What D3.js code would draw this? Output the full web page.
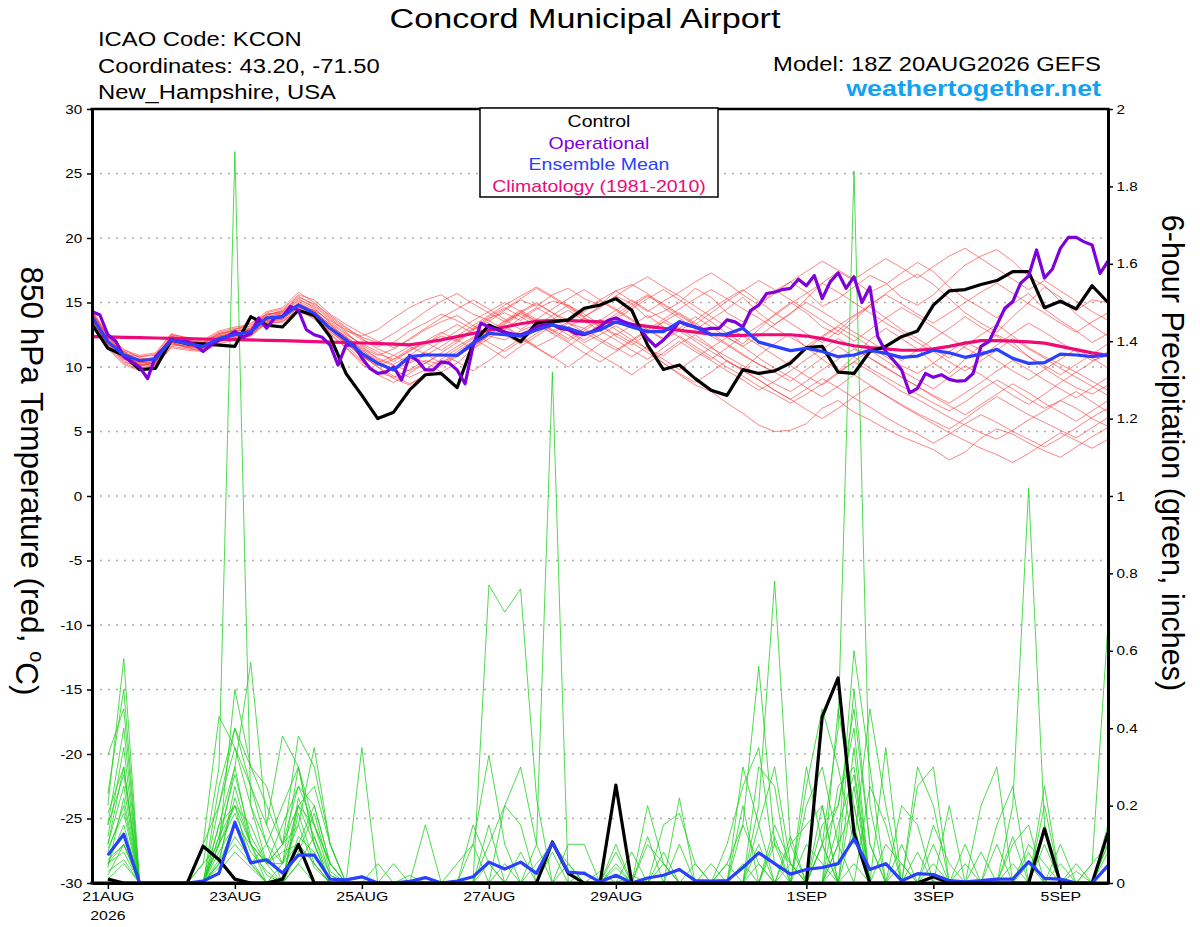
<!DOCTYPE html>
<html>
<head>
<meta charset="utf-8">
<title>Concord Municipal Airport - GEFS</title>
<script src="https://d3js.org/d3.v7.min.js"></script>
<style>
    body { margin: 0; background: #fff; }
    svg { font-family: "Liberation Sans", Arial, Helvetica, sans-serif; }
    .grid line { stroke: #aaa; stroke-width: 1.5; stroke-dasharray: 2 6; }
    .axis path { stroke: #000; stroke-width: 3; }
    .axis line { stroke: #000; stroke-width: 1.5; }
    .axis text { font-size: 12.5px; fill: #000; }
</style>
</head>
<body>
<div id="chart"></div>
<script>
/* ---- data ---- */
var startTime = "2026-08-20T18:00:00Z";   // first 6-h step (model run)
var endTime = "2026-09-05T18:00:00Z";
var stepHours = 6;
var opStepHours = 3;

var tickDates = ["2026-08-21", "2026-08-23", "2026-08-25", "2026-08-27", "2026-08-29", "2026-09-01", "2026-09-03", "2026-09-05"];
var tickLabels = ["21AUG", "23AUG", "25AUG", "27AUG", "29AUG", "1SEP", "3SEP", "5SEP"];
var tempTicks = [-30, -25, -20, -15, -10, -5, 0, 5, 10, 15, 20, 25, 30];
var gridTicks = [-25, -20, -15, -10, -5, 0, 5, 10, 15, 20, 25];
var precipTicks = [0, 0.2, 0.4, 0.6, 0.8, 1, 1.2, 1.4, 1.6, 1.8, 2];
var legendNames = ["Control", "Operational", "Ensemble Mean", "Climatology (1981-2010)"];

// 850 hPa temperature, 6-hourly from 18Z 20AUG
var control = [13.3, 11.45, 10.9, 9.8, 9.9, 12.1, 11.8, 11.8, 11.7, 11.6, 13.9, 13.25, 13.1,
    14.4, 14.0, 12.35, 9.5, 7.8, 6.0, 6.5, 8.2, 9.4, 9.5, 8.4, 11.8, 13.25,
    12.7, 11.96, 13.4, 13.5, 13.65, 14.55, 14.8, 15.3, 14.4, 11.7, 9.8, 10.15, 9.1,
    8.2, 7.8, 9.8, 9.5, 9.7, 10.3, 11.5, 11.6, 9.6, 9.5, 11.2, 11.6, 12.35,
    12.8, 14.8, 15.9, 16.0, 16.4, 16.7, 17.4, 17.4, 14.6, 15.1, 14.5, 16.3, 15.0];

var ensMean = [13.9, 11.96, 10.93, 10.5, 10.6, 12.1, 11.8, 11.6, 12.2, 12.5, 12.74, 13.8, 13.9,
    14.8, 14.16, 13.0, 12.1, 11.06, 10.28, 9.77, 10.8, 10.93, 10.93, 10.9, 11.83, 12.6,
    12.5, 12.4, 12.87, 13.25, 13.0, 12.6, 12.87, 13.5, 13.1, 12.74, 12.74, 13.5, 13.1,
    12.5, 12.55, 13.0, 11.93, 11.6, 11.27, 11.45, 11.2, 10.8, 10.93, 11.3, 11.06, 10.75,
    10.85, 11.3, 11.1, 10.75, 11.0, 11.37, 10.67, 10.28, 10.34, 11.0, 10.93, 10.8, 10.93];

var climo = [12.35, 12.33, 12.3, 12.28, 12.25, 12.22, 12.2, 12.17, 12.15, 12.12, 12.1, 12.07, 12.04,
    12.0, 11.97, 11.93, 11.9, 11.86, 11.82, 11.78, 11.72, 11.9, 12.1, 12.35, 12.6, 12.85,
    13.1, 13.35, 13.55, 13.6, 13.6, 13.55, 13.5, 13.45, 13.3, 13.15, 13.0, 12.85, 12.7,
    12.55, 12.45, 12.45, 12.5, 12.5, 12.5, 12.4, 12.2, 11.9, 11.65, 11.5, 11.4, 11.3,
    11.3, 11.4, 11.6, 11.85, 12.05, 12.05, 12.0, 11.95, 11.85, 11.6, 11.35, 11.1, 10.9];

// operational run, 3-hourly
var operational = [14.3, 14.03, 12.5, 12.0, 10.8, 10.4, 10.0, 9.1, 10.8, 11.45, 12.1, 11.96, 11.96, 11.7, 11.2, 11.7,
    12.1, 12.35, 12.74, 12.3, 12.6, 13.8, 13.0, 13.8, 13.9, 14.7, 14.4, 12.9, 12.5, 12.3, 11.7, 10.15,
    11.7, 11.7, 10.7, 9.9, 9.5, 9.6, 10.0, 9.0, 10.9, 10.5, 9.77, 9.77, 10.4, 10.3, 9.77, 8.7,
    11.6, 13.4, 13.1, 12.9, 12.7, 12.55, 12.5, 12.74, 13.1, 13.3, 13.3, 13.0, 12.9, 12.6, 12.5, 12.74,
    13.1, 13.6, 13.8, 13.5, 13.3, 13.0, 12.2, 11.6, 12.1, 12.74, 13.5, 13.25, 13.1, 12.9, 13.0, 13.0,
    13.65, 13.5, 13.1, 14.4, 14.8, 15.7, 15.8, 16.0, 16.1, 16.8, 16.3, 17.1, 15.3, 16.6, 17.3, 16.1,
    17.0, 15.0, 16.2, 12.35, 11.2, 10.5, 9.77, 8.0, 8.35, 9.5, 9.2, 9.4, 9.04, 8.9, 8.94, 9.5,
    11.6, 11.96, 13.25, 14.55, 15.07, 16.5, 17.05, 19.07, 16.9, 17.6, 19.2, 20.05, 20.05, 19.7, 19.46, 17.26,
    18.2];

// ensemble members (temperature)
var mem01 = [14.2, 12.3, 11.2, 10.1, 10.3, 12.4, 12.0, 11.9, 12.6, 12.9, 13.4, 14.1, 14.3,
    15.3, 14.6, 13.4, 12.5, 11.8, 11.2, 10.4, 11.3, 11.8, 12.4, 12.0, 12.9, 13.8,
    14.2, 13.6, 14.5, 15.1, 14.8, 13.9, 14.6, 15.5, 14.9, 13.8, 14.3, 15.0, 16.1,
    15.4, 14.2, 13.5, 14.8, 15.9, 16.6, 15.8, 14.7, 15.3, 16.2, 17.1, 16.5, 15.4,
    14.8, 15.6, 16.8, 17.9, 18.6, 19.1, 18.2, 17.0, 16.3, 15.1, 14.4, 15.2, 15.0];
var mem02 = [13.6, 11.8, 10.6, 10.4, 10.8, 11.9, 11.5, 11.2, 12.0, 12.2, 12.4, 13.5, 13.6,
    14.4, 13.9, 12.8, 11.7, 10.5, 9.6, 9.2, 9.8, 10.5, 10.2, 10.9, 11.6, 12.4,
    12.1, 12.8, 13.3, 12.6, 13.4, 13.0, 12.2, 11.5, 10.8, 11.6, 10.3, 9.4, 8.6,
    8.1, 7.2, 6.4, 5.5, 5.0, 5.1, 5.6, 6.8, 7.4, 6.5, 5.9, 5.2, 4.6,
    4.1, 3.6, 2.8, 3.4, 4.5, 5.2, 4.8, 4.1, 3.5, 3.0, 3.8, 4.6, 5.3];
var mem03 = [14.0, 12.1, 11.0, 10.8, 10.9, 12.3, 12.1, 11.8, 12.5, 12.8, 12.9, 13.6, 13.7,
    14.6, 14.4, 13.6, 12.9, 12.1, 11.6, 11.9, 12.8, 13.4, 14.1, 13.6, 12.9, 13.5,
    14.4, 15.2, 14.7, 15.6, 16.1, 15.3, 14.8, 15.9, 16.4, 15.7, 14.6, 13.8, 12.9,
    13.7, 14.5, 15.4, 14.2, 13.3, 14.1, 15.3, 16.5, 17.4, 16.7, 15.8, 16.4, 17.3,
    18.1, 17.4, 16.2, 15.3, 14.6, 13.8, 14.9, 15.7, 14.5, 13.6, 12.8, 11.9, 12.6];
var mem04 = [13.8, 11.7, 10.5, 9.9, 10.2, 11.8, 11.5, 11.4, 11.9, 12.3, 12.6, 13.7, 14.0,
    15.0, 14.3, 13.1, 12.4, 11.3, 10.4, 9.8, 10.6, 11.1, 10.8, 11.6, 12.3, 13.1,
    12.5, 11.8, 12.6, 13.4, 12.8, 11.9, 12.5, 13.2, 12.4, 11.3, 10.9, 11.8, 12.5,
    11.6, 10.4, 9.8, 10.9, 11.8, 12.6, 11.5, 10.6, 9.7, 10.8, 12.1, 13.0, 12.2,
    11.4, 10.3, 9.5, 10.6, 11.7, 12.5, 11.9, 10.8, 9.9, 9.1, 8.4, 7.9, 8.6];
var mem05 = [14.4, 12.5, 11.3, 10.9, 11.1, 12.6, 12.2, 12.0, 12.7, 13.0, 13.1, 14.0, 14.4,
    15.5, 14.8, 13.8, 12.8, 12.4, 12.9, 13.8, 14.6, 15.2, 15.6, 14.8, 14.1, 13.6,
    12.9, 13.8, 14.6, 13.9, 12.8, 12.1, 12.9, 13.7, 14.5, 15.3, 16.0, 15.2, 14.3,
    13.5, 12.6, 11.8, 12.9, 14.1, 15.0, 14.2, 13.1, 12.5, 13.6, 14.8, 15.7, 16.5,
    17.2, 16.4, 15.3, 14.2, 13.4, 12.7, 13.9, 15.0, 16.2, 15.4, 14.1, 13.2, 12.4];
var mem06 = [13.5, 11.5, 10.3, 9.8, 10.0, 11.6, 11.4, 11.3, 12.1, 12.4, 12.8, 13.9, 14.1,
    14.9, 14.1, 12.6, 11.5, 10.2, 9.5, 9.9, 10.7, 10.4, 9.6, 10.3, 11.4, 12.5,
    13.2, 12.4, 11.6, 12.2, 13.1, 13.8, 13.2, 12.4, 11.7, 12.6, 13.5, 14.2, 13.4,
    12.6, 11.8, 11.0, 10.2, 9.6, 8.9, 9.8, 10.7, 11.6, 10.8, 9.9, 9.2, 8.5,
    7.9, 7.2, 6.6, 7.3, 8.2, 9.0, 8.3, 7.5, 6.8, 7.4, 8.1, 7.3, 6.5];
var mem07 = [14.1, 12.2, 11.1, 10.6, 10.4, 12.0, 11.9, 11.7, 12.3, 12.6, 12.9, 14.2, 14.5,
    15.6, 15.2, 14.1, 13.3, 12.6, 12.0, 11.5, 12.1, 12.9, 13.5, 14.0, 13.2, 12.6,
    13.4, 14.2, 13.6, 12.8, 13.5, 14.3, 15.1, 14.4, 13.6, 12.9, 12.1, 12.8, 13.6,
    14.5, 15.3, 16.0, 15.1, 14.2, 13.4, 12.6, 11.9, 12.8, 13.9, 14.7, 13.8, 12.9,
    12.2, 11.4, 10.7, 11.6, 12.5, 13.3, 12.4, 11.5, 10.8, 10.2, 9.6, 10.4, 11.2];
var mem08 = [13.7, 11.9, 10.8, 10.3, 10.7, 12.2, 11.7, 11.5, 12.4, 12.7, 12.5, 13.4, 13.5,
    14.3, 13.8, 12.9, 11.8, 10.8, 10.1, 10.6, 11.4, 11.9, 11.3, 12.1, 13.0, 13.9,
    14.6, 13.9, 13.2, 14.0, 14.8, 14.1, 13.3, 12.5, 13.2, 14.0, 13.1, 12.3, 11.4,
    10.6, 11.5, 12.4, 11.7, 10.9, 10.1, 9.3, 8.6, 9.5, 10.4, 11.3, 10.5, 9.7,
    9.0, 8.3, 9.2, 10.1, 9.4, 8.6, 7.8, 7.1, 7.9, 8.8, 9.6, 8.9, 8.2];
var mem09 = [14.3, 12.4, 11.4, 10.7, 10.5, 12.5, 12.3, 12.1, 12.8, 13.1, 13.3, 14.3, 14.6,
    15.8, 15.0, 13.9, 13.0, 12.3, 11.9, 12.6, 13.4, 14.3, 15.1, 15.7, 14.9, 14.2,
    13.5, 14.3, 15.0, 14.2, 13.6, 14.4, 15.2, 15.9, 15.1, 14.3, 15.1, 15.8, 16.6,
    17.3, 16.5, 15.6, 14.8, 15.7, 16.6, 17.4, 18.2, 17.5, 16.8, 17.6, 18.4, 17.7,
    16.9, 17.8, 18.6, 19.2, 18.4, 17.6, 16.8, 16.0, 16.7, 15.9, 15.1, 14.3, 13.6];
var mem10 = [13.9, 12.0, 10.9, 10.2, 10.1, 11.7, 11.6, 11.5, 12.0, 12.3, 12.5, 13.6, 13.8,
    14.8, 14.0, 12.7, 11.9, 10.9, 10.0, 9.1, 8.6, 9.4, 10.3, 11.2, 12.0, 12.8,
    13.6, 14.4, 13.7, 12.9, 12.2, 13.0, 13.7, 12.9, 12.1, 11.4, 10.6, 9.8, 10.7,
    11.5, 12.3, 11.6, 10.7, 9.9, 9.2, 8.4, 7.7, 8.5, 9.4, 8.6, 7.8, 7.1,
    6.4, 5.8, 5.2, 6.0, 6.9, 7.7, 7.0, 6.3, 5.7, 5.1, 4.5, 5.3, 6.1];
var mem11 = [14.0, 12.2, 11.1, 10.5, 10.8, 12.4, 12.0, 11.6, 12.3, 12.7, 13.0, 13.9, 14.2,
    15.2, 14.7, 13.7, 12.7, 11.6, 10.6, 10.1, 9.7, 10.3, 11.1, 11.9, 12.8, 13.7,
    14.5, 15.3, 16.1, 15.4, 14.6, 13.8, 13.1, 13.9, 14.7, 15.5, 14.8, 14.0, 13.2,
    12.4, 11.7, 10.9, 10.2, 9.6, 10.5, 11.4, 12.3, 13.1, 12.4, 11.6, 10.8, 10.1,
    9.5, 10.3, 11.2, 12.0, 11.3, 10.5, 9.7, 9.0, 9.8, 10.6, 11.4, 10.7, 9.9];
var mem12 = [13.7, 11.6, 10.4, 10.0, 10.4, 11.9, 11.7, 11.4, 12.1, 12.5, 12.7, 13.7, 13.9,
    14.7, 14.2, 13.3, 12.2, 11.4, 10.7, 10.2, 10.9, 11.7, 12.6, 13.3, 12.6, 11.9,
    11.2, 12.0, 12.9, 13.7, 14.4, 13.6, 12.8, 12.1, 11.3, 10.6, 11.5, 12.4, 11.6,
    10.8, 10.0, 9.3, 8.5, 7.9, 7.2, 7.9, 8.7, 9.6, 10.4, 9.7, 8.9, 8.1,
    7.5, 6.8, 6.1, 5.5, 4.9, 4.4, 5.1, 5.9, 6.6, 7.4, 6.8, 6.0, 5.4];
var mem13 = [14.2, 12.4, 11.2, 10.4, 10.2, 11.9, 12.0, 11.9, 12.5, 12.9, 13.2, 14.1, 14.2,
    15.1, 14.5, 13.5, 12.6, 11.7, 11.0, 10.6, 11.2, 12.0, 12.7, 12.1, 11.4, 12.2,
    13.1, 12.3, 11.5, 10.7, 11.6, 12.5, 13.3, 14.1, 14.9, 15.6, 14.9, 14.1, 13.3,
    14.2, 15.1, 15.9, 16.7, 16.0, 15.2, 14.4, 13.6, 12.8, 12.0, 12.9, 13.8, 14.6,
    13.9, 13.1, 12.3, 11.5, 10.8, 11.7, 12.6, 13.4, 12.7, 11.9, 11.2, 10.5, 10.9];
var mem14 = [13.4, 11.4, 10.2, 9.7, 10.1, 11.5, 11.3, 11.2, 11.8, 12.1, 12.4, 13.4, 13.5,
    14.5, 13.7, 12.5, 11.5, 10.4, 9.4, 8.8, 9.5, 10.3, 11.0, 10.4, 9.7, 10.5,
    11.4, 12.2, 11.5, 10.8, 10.0, 10.9, 11.8, 12.6, 11.9, 11.1, 10.3, 9.5, 8.8,
    9.6, 10.5, 9.8, 9.0, 8.2, 7.5, 6.7, 6.0, 6.8, 7.7, 8.5, 7.8, 7.0,
    6.3, 5.6, 4.9, 4.3, 3.7, 3.2, 2.6, 3.3, 4.1, 4.9, 4.3, 3.7, 4.4];
var mem15 = [14.1, 12.0, 10.9, 10.6, 10.7, 12.1, 11.9, 11.8, 12.4, 12.6, 12.8, 13.8, 14.0,
    14.9, 14.4, 13.2, 12.3, 11.5, 10.9, 11.4, 12.2, 13.0, 13.8, 14.5, 15.2, 14.5,
    13.7, 12.9, 13.7, 14.5, 15.3, 16.0, 15.2, 14.5, 13.7, 12.9, 12.2, 13.0, 13.9,
    13.1, 12.3, 11.6, 12.4, 13.3, 14.2, 15.0, 14.3, 13.5, 12.7, 12.0, 11.2, 10.5,
    11.3, 12.2, 13.0, 13.9, 13.1, 12.4, 11.6, 10.8, 10.1, 9.4, 10.2, 11.0, 11.8];
var mem16 = [13.8, 11.8, 10.7, 10.2, 10.3, 11.9, 11.6, 11.5, 12.1, 12.4, 12.6, 13.5, 13.7,
    14.6, 14.0, 12.9, 11.9, 10.8, 10.3, 10.9, 11.6, 11.0, 10.3, 11.0, 11.8, 12.7,
    13.5, 14.2, 14.9, 14.2, 13.4, 12.7, 12.0, 11.3, 12.1, 12.9, 13.7, 13.0, 12.2,
    11.5, 10.8, 10.1, 9.4, 8.7, 8.1, 8.9, 9.8, 10.6, 11.4, 10.7, 9.9, 9.2,
    8.5, 7.8, 7.2, 8.0, 8.8, 9.7, 10.5, 9.8, 9.0, 8.3, 7.6, 8.4, 9.2];
var mem17 = [14.3, 12.3, 11.2, 10.8, 11.0, 12.5, 12.1, 11.9, 12.6, 12.8, 13.0, 14.0, 14.3,
    15.4, 14.9, 14.0, 13.1, 12.2, 11.4, 10.9, 10.3, 10.9, 11.6, 12.4, 13.2, 14.0,
    14.8, 15.5, 16.2, 15.5, 14.7, 13.9, 14.7, 15.5, 16.3, 17.0, 16.2, 15.5, 14.7,
    13.9, 13.1, 12.4, 13.2, 14.0, 14.9, 15.7, 16.5, 15.8, 15.0, 14.2, 13.4, 12.7,
    11.9, 11.2, 10.4, 9.7, 10.5, 11.3, 12.2, 11.4, 10.7, 9.9, 9.2, 8.5, 7.8];
var mem18 = [13.6, 11.7, 10.6, 10.1, 10.5, 11.8, 11.6, 11.4, 12.2, 12.6, 12.9, 13.8, 14.0,
    14.9, 14.3, 13.3, 12.3, 11.3, 10.5, 9.8, 9.2, 9.8, 10.6, 11.4, 12.2, 11.5,
    10.7, 11.6, 12.4, 13.2, 12.5, 11.7, 10.9, 10.2, 9.4, 10.3, 11.1, 12.0, 11.2,
    10.5, 9.7, 9.0, 8.2, 8.9, 9.7, 10.6, 11.4, 12.2, 11.5, 10.7, 10.0, 9.2,
    8.5, 7.7, 7.0, 6.3, 7.1, 7.9, 8.7, 8.0, 7.2, 6.5, 5.8, 6.6, 7.4];
var mem19 = [14.0, 12.1, 11.0, 10.4, 10.6, 12.2, 11.9, 11.7, 12.2, 12.5, 12.8, 13.7, 13.9,
    14.8, 14.2, 13.0, 12.1, 11.1, 10.2, 9.7, 10.4, 11.2, 12.0, 12.8, 13.6, 14.3,
    15.0, 14.3, 13.5, 12.8, 12.0, 12.8, 13.6, 14.4, 15.2, 14.4, 13.7, 14.5, 15.3,
    16.0, 15.3, 14.5, 13.8, 13.0, 12.3, 11.6, 12.4, 13.2, 14.0, 14.8, 15.6, 14.9,
    14.1, 13.4, 14.2, 15.0, 15.8, 16.5, 15.7, 14.9, 14.2, 13.4, 12.7, 13.5, 14.2];
var mem20 = [13.9, 11.9, 10.8, 10.3, 10.4, 12.0, 11.8, 11.6, 12.3, 12.6, 12.8, 13.8, 13.9,
    14.7, 14.1, 13.0, 11.9, 10.9, 10.0, 9.3, 8.7, 9.3, 10.1, 10.8, 11.6, 12.5,
    13.3, 14.1, 13.4, 12.6, 11.9, 11.1, 10.4, 11.2, 12.0, 12.8, 13.5, 12.8, 12.0,
    11.2, 10.5, 9.7, 9.0, 8.2, 7.5, 8.3, 9.1, 8.4, 7.6, 6.9, 6.1, 5.4,
    4.8, 4.1, 4.8, 5.6, 6.3, 5.7, 5.0, 4.4, 3.8, 4.5, 5.3, 6.1, 6.8];

// 6-hour precipitation (inches), first value ends 00Z 21AUG
var ctlPrecip = [.01, 0, 0, 0, 0, 0, .095, .06, .01, 0, 0, .01, .1, 0, 0, 0,
    0, 0, 0, 0, 0, 0, 0, 0, 0, 0, 0, 0, .106, .025, 0, 0,
    .253, 0, 0, 0, 0, 0, 0, 0, 0, 0, 0, 0, 0, .43, .53, .13,
    0, 0, 0, 0, .016, 0, 0, 0, 0, 0, 0, .14, 0, 0, 0, .13];
var meanPrecip = [.072, .126, 0, 0, 0, 0, .005, .025, .157, .052, .06, .026, .072, .072, .01, .008,
    .016, 0, 0, .004, .014, 0, .005, .016, .054, .036, .054, .025, .104, .028, .025, .003,
    .02, 0, .013, .02, .035, .006, .005, .006, .04, .078, .05, .023, .035, .04, .05, .115,
    .035, .05, .006, .024, .022, .006, .003, .006, .01, .01, .055, .012, .01, 0, 0, .045];

var pcp01 = [.05, .10, 0, 0, 0, 0, .05, .30, 1.89, .20, .10, 0, .05, 0, 0, 0,
    0, 0, 0, 0, 0, 0, 0, 0, .05, 0, 0, 0, 0, 0, 0, 0,
    0, 0, 0, 0, 0, 0, 0, 0, 0, 0, .10, .05, 0, 0, .10, .20,
    0, 0, 0, 0, 0, 0, 0, 0, 0, 0, .05, 0, 0, 0, 0, 0];
var pcp02 = [.20, .58, 0, 0, 0, 0, 0, .10, .30, .57, .15, .05, .20, .15, .02, 0,
    0, 0, 0, 0, 0, 0, 0, 0, 0, 0, 0, 0, 0, 0, 0, 0,
    .02, 0, 0, 0, 0, 0, 0, .05, .15, .56, .10, 0, 0, .10, .20, .45,
    .10, 0, 0, 0, 0, 0, 0, 0, 0, 0, 0, 0, 0, 0, 0, .10];
var pcp03 = [.33, .45, 0, 0, 0, 0, .10, .20, .40, .25, .15, .38, .30, .10, 0, 0,
    .35, 0, 0, 0, 0, 0, 0, 0, 0, 0, 0, .10, 1.32, 0, 0, 0,
    0, 0, 0, 0, 0, 0, 0, 0, 0, 0, 0, 0, .20, .30, .10, 0,
    0, 0, 0, 0, 0, 0, 0, 0, 0, .20, 1.02, .15, 0, 0, 0, 0];
var pcp04 = [.10, .30, 0, 0, 0, 0, 0, .15, .20, .10, .05, .10, .38, .30, .10, 0,
    0, 0, 0, 0, 0, 0, 0, 0, .77, .70, .76, .22, 0, 0, 0, 0,
    0, 0, 0, 0, 0, 0, 0, 0, 0, .05, 0, 0, 0, .10, .40, 1.84,
    .20, 0, 0, 0, 0, 0, 0, 0, 0, 0, 0, 0, 0, 0, .05, .67];
var pcp05 = [.23, .50, 0, 0, 0, 0, .10, .43, .35, .25, .10, .20, .30, .15, .05, 0,
    0, 0, 0, 0, 0, 0, 0, .10, .33, .10, 0, 0, 0, 0, 0, 0,
    0, 0, 0, 0, 0, 0, 0, 0, 0, .20, .78, .10, 0, 0, 0, .05,
    0, 0, 0, .25, .30, 0, 0, 0, 0, 0, 0, .20, 0, 0, 0, 0];
var pcp06 = [.15, .40, 0, 0, 0, 0, 0, .25, .40, .30, .20, .10, .25, .20, .05, 0,
    0, 0, 0, 0, .15, 0, 0, 0, 0, 0, 0, 0, 0, 0, 0, 0,
    .08, 0, .20, .05, 0, 0, 0, 0, 0, 0, 0, 0, .25, .45, .30, .10,
    .45, .20, 0, 0, 0, 0, 0, 0, .15, .25, 0, 0, 0, 0, 0, 0];
var pcp07 = [.08, .20, 0, 0, 0, 0, 0, .10, .50, .30, .25, .10, .15, .35, .10, 0,
    0, 0, 0, 0, 0, 0, 0, 0, 0, 0, 0, 0, 0, .05, 0, 0,
    0, 0, 0, 0, .22, 0, 0, 0, .15, .05, 0, 0, 0, 0, .05, .50,
    .10, 0, 0, 0, .10, 0, 0, 0, 0, 0, 0, 0, .10, 0, 0, 0];
var pcp08 = [.05, .15, 0, 0, 0, 0, 0, .05, .25, .10, .05, .10, .20, .25, .10, 0,
    0, 0, .05, 0, 0, 0, 0, 0, .10, .20, .15, 0, 0, 0, 0, 0,
    0, 0, 0, .15, .18, .05, 0, 0, 0, .30, .25, 0, 0, 0, 0, 0,
    0, 0, .10, 0, 0, 0, .05, 0, 0, 0, 0, 0, 0, 0, 0, .15];
var pcp09 = [.12, .35, 0, 0, 0, 0, 0, .15, .30, .10, .05, .05, .30, .10, 0, 0,
    0, 0, 0, 0, 0, 0, 0, 0, 0, 0, 0, 0, 0, .10, .10, 0,
    0, 0, 0, 0, 0, 0, 0, .10, .25, .35, .05, 0, 0, 0, .10, .60,
    .30, 0, 0, 0, 0, 0, 0, .20, .30, 0, 0, 0, 0, 0, 0, 0];
var pcp10 = [.10, .25, 0, 0, 0, 0, 0, .20, .35, .20, .05, .15, .25, .15, .05, 0,
    0, 0, 0, 0, 0, 0, 0, 0, 0, 0, 0, 0, 0, 0, 0, 0,
    .05, 0, .10, .05, 0, 0, 0, 0, 0, 0, 0, .10, .15, .20, 0, 0,
    0, 0, 0, .30, .20, 0, 0, 0, 0, 0, 0, .25, 0, 0, 0, 0];
var pcp11 = [.02, .10, 0, 0, 0, 0, 0, .05, .15, .10, 0, 0, .18, .05, 0, 0,
    0, 0, 0, 0, 0, 0, 0, .15, .05, 0, 0, 0, .08, 0, 0, 0,
    0, 0, 0, 0, 0, .05, 0, 0, .30, .15, 0, 0, 0, 0, .45, .20,
    0, .35, 0, 0, 0, .20, 0, 0, 0, .10, .15, 0, 0, .05, 0, 0];
var pcp12 = [.05, .08, 0, 0, 0, 0, .05, .10, .20, .05, .10, .05, .10, .20, .05, 0,
    0, .05, 0, 0, 0, 0, 0, 0, 0, 0, 0, 0, 0, 0, .03, 0,
    0, .08, 0, 0, 0, 0, 0, 0, 0, 0, .15, .05, 0, .15, .20, .40,
    0, 0, .20, .15, 0, 0, 0, 0, 0, 0, 0, 0, 0, 0, .05, .10];
var pcp13 = [.03, .06, 0, 0, 0, 0, 0, .05, .10, .05, 0, 0, .12, .08, 0, 0,
    0, 0, 0, 0, 0, 0, 0, 0, 0, 0, 0, .05, .10, .05, 0, 0,
    0, 0, 0, .05, 0, 0, 0, 0, .20, 0, 0, 0, .10, .05, 0, 0,
    .25, .15, 0, 0, 0, 0, 0, 0, 0, .05, 0, .10, 0, 0, 0, 0];
var pcp14 = [.07, .12, 0, 0, 0, 0, 0, .12, .20, .15, .05, .08, .10, .05, 0, 0,
    0, 0, 0, 0, 0, 0, 0, 0, 0, .20, .30, .10, 0, 0, 0, 0,
    .04, 0, 0, 0, 0, 0, 0, 0, 0, .15, .30, .05, 0, 0, .25, .30,
    0, 0, 0, 0, .05, 0, 0, 0, .10, 0, 0, 0, 0, 0, 0, .08];
var pcp15 = [.01, .05, 0, 0, 0, 0, 0, .03, .08, .04, 0, 0, .05, .12, .02, 0,
    0, 0, 0, 0, 0, 0, .05, .10, 0, 0, 0, 0, 0, 0, 0, 0,
    0, 0, .12, 0, 0, 0, 0, .05, 0, 0, 0, 0, 0, .10, 0, .15,
    0, .10, .05, 0, 0, 0, 0, 0, 0, 0, .10, .05, 0, 0, 0, 0];
var pcp16 = [.15, .28, 0, 0, 0, 0, 0, .10, .18, .08, .03, 0, .22, .12, 0, 0,
    0, 0, 0, .02, 0, 0, 0, 0, 0, 0, 0, 0, 0, 0, 0, 0,
    0, .02, 0, 0, .10, 0, 0, 0, 0, 0, 0, .05, 0, 0, 0, .35,
    0, 0, 0, 0, 0, 0, .10, 0, 0, 0, 0, 0, .05, 0, 0, .05];
var pcp17 = [.06, .10, 0, 0, 0, 0, 0, .04, .12, .06, 0, .05, .15, .04, 0, 0,
    0, 0, 0, 0, 0, 0, 0, 0, .15, 0, 0, 0, 0, 0, 0, .03,
    0, 0, 0, 0, 0, 0, 0, 0, 0, .10, 0, 0, .30, .10, 0, 0,
    0, 0, 0, 0, .15, .05, 0, 0, 0, 0, 0, .15, 0, 0, 0, 0];
var pcp18 = [.09, .18, 0, 0, 0, 0, 0, .08, .15, .05, 0, 0, .08, .18, .03, 0,
    0, 0, 0, 0, 0, 0, 0, 0, 0, .05, 0, 0, 0, 0, 0, 0,
    0, 0, 0, 0, 0, 0, .05, 0, 0, 0, 0, .12, 0, 0, 0, .25,
    0, 0, 0, 0, 0, 0, 0, .08, 0, 0, 0, 0, 0, .03, 0, 0];
var pcp19 = [.04, .22, 0, 0, 0, 0, 0, .06, .22, .10, .02, 0, .10, .05, 0, 0,
    0, 0, 0, 0, 0, 0, 0, 0, 0, 0, 0, 0, 0, 0, 0, 0,
    0, 0, 0, .08, 0, 0, 0, 0, .05, 0, 0, 0, 0, 0, .15, .28,
    0, 0, .05, 0, 0, 0, 0, 0, 0, 0, .08, 0, 0, 0, 0, 0];
var pcp20 = [.18, .30, 0, 0, 0, 0, 0, .12, .28, .12, .05, 0, .20, .10, 0, 0,
    0, 0, 0, 0, 0, 0, 0, 0, 0, 0, .08, 0, 0, 0, 0, 0,
    .10, 0, 0, 0, 0, 0, 0, 0, 0, 0, .12, 0, 0, .20, 0, 0,
    0, 0, 0, .08, 0, 0, 0, 0, 0, .12, 0, 0, 0, 0, 0, .10];

var members = [mem01, mem02, mem03, mem04, mem05, mem06, mem07, mem08, mem09, mem10,
    mem11, mem12, mem13, mem14, mem15, mem16, mem17, mem18, mem19, mem20];
var memberPrecip = [pcp01, pcp02, pcp03, pcp04, pcp05, pcp06, pcp07, pcp08, pcp09, pcp10,
    pcp11, pcp12, pcp13, pcp14, pcp15, pcp16, pcp17, pcp18, pcp19, pcp20];

/* ---- layout ---- */
var W = 1200, H = 927;
var plot = { left: 92, right: 1108, top: 109, bottom: 883 };
var stretch = 1.22;   // the lettering in the picture is wide

var colControl = "#000000", colOper = "#8000dc", colMean = "#2a40ff", colClimo = "#ee0a78";
var legendColors = [colControl, colOper, colMean, colClimo];

var t0 = new Date(startTime);
var t1 = new Date(endTime);
var hour = 3600 * 1000;

/* Scale */
var x = d3.scaleUtc().domain([t0, t1]).range([plot.left, plot.right]);
var yT = d3.scaleLinear().domain([-30, 30]).range([plot.bottom, plot.top]);
var yP = d3.scaleLinear().domain([0, 2]).range([plot.bottom, plot.top]);

var svg = d3.select("#chart").append("svg")
    .attr("width", W).attr("height", H)
    .attr("viewBox", "0 0 " + W + " " + H);

svg.append("rect").attr("width", W).attr("height", H).attr("fill", "#fff");

svg.append("clipPath").attr("id", "clip")
    .append("rect")
    .attr("x", plot.left).attr("y", plot.top)
    .attr("width", plot.right - plot.left).attr("height", plot.bottom - plot.top);

function wideText(g, str, px, py, size, anchor) {
    return g.append("text")
        .attr("transform", "translate(" + px + "," + py + ") scale(" + stretch + ",1)")
        .attr("text-anchor", anchor)
        .style("font-size", size + "px")
        .text(str);
}

/* grid */
svg.append("g").attr("class", "grid")
    .selectAll("line").data(gridTicks).enter()
    .append("line")
    .attr("x1", plot.left).attr("x2", plot.right)
    .attr("y1", d => yT(d)).attr("y2", d => yT(d));

/* lines */
var lineT = d3.line()
    .x((d, i) => x(new Date(t0.getTime() + i * stepHours * hour)))
    .y(d => yT(d));
var lineOp = d3.line()
    .x((d, i) => x(new Date(t0.getTime() + i * opStepHours * hour)))
    .y(d => yT(d));
var lineP = d3.line()
    .x((d, i) => x(new Date(t0.getTime() + (i + 1) * stepHours * hour)))
    .y(d => yP(d));

var lines = svg.append("g").attr("clip-path", "url(#clip)");

lines.append("g").selectAll("path").data(members).enter()
    .append("path")
    .attr("d", lineT)
    .attr("fill", "none")
    .attr("stroke", "#ff3030")
    .attr("stroke-opacity", 0.75)
    .attr("stroke-width", 0.8);

lines.append("g").selectAll("path").data(memberPrecip).enter()
    .append("path")
    .attr("d", lineP)
    .attr("fill", "none")
    .attr("stroke", "#22d022")
    .attr("stroke-width", 0.8);

function bold(data, gen, col) {
    lines.append("path")
        .attr("d", gen(data))
        .attr("fill", "none")
        .attr("stroke", col)
        .attr("stroke-width", 3.2)
        .attr("stroke-linejoin", "round");
}
bold(climo, lineT, colClimo);
bold(control, lineT, colControl);
bold(operational, lineOp, colOper);
bold(ensMean, lineT, colMean);
bold(ctlPrecip, lineP, colControl);
bold(meanPrecip, lineP, colMean);

/* Add Axis into SVG */
var yAxisL = d3.axisLeft(yT).tickValues(tempTicks).tickSize(5).tickPadding(3)
    .tickSizeOuter(0).tickFormat(d => String(d));
var gL = svg.append("g").attr("class", "axis").attr("transform", "translate(" + plot.left + ",0)").call(yAxisL);
gL.selectAll(".tick text").attr("transform", "scale(" + stretch + ",1)");

var yAxisR = d3.axisRight(yP).tickValues(precipTicks).tickSize(5).tickPadding(2)
    .tickSizeOuter(0).tickFormat(d => String(+d.toFixed(1)));
var gR = svg.append("g").attr("class", "axis").attr("transform", "translate(" + plot.right + ",0)").call(yAxisR);
gR.selectAll(".tick text").attr("transform", "scale(" + stretch + ",1)");

var xAxis = d3.axisBottom(x).tickValues(tickDates.map(d => new Date(d + "T00:00:00Z")))
    .tickSize(6).tickPadding(3).tickSizeOuter(0)
    .tickFormat((d, i) => tickLabels[i]);
var gX = svg.append("g").attr("class", "axis").attr("transform", "translate(0," + plot.bottom + ")").call(xAxis);
gX.selectAll(".tick text").attr("transform", "scale(" + stretch + ",1)").style("font-size", "13px");
wideText(svg, "2026", x(new Date(tickDates[0] + "T00:00:00Z")), 920, 13, "middle");

/* top and bottom frame */
svg.append("line")
    .attr("x1", plot.left - 1.5).attr("x2", plot.right + 1.5)
    .attr("y1", plot.top).attr("y2", plot.top)
    .attr("stroke", "#000").attr("stroke-width", 2.5);
svg.append("line")
    .attr("x1", plot.left - 1.5).attr("x2", plot.right + 1.5)
    .attr("y1", plot.bottom).attr("y2", plot.bottom)
    .attr("stroke", "#000").attr("stroke-width", 3);

/* axis titles, both read top to bottom */
var lt = svg.append("text")
    .attr("transform", "translate(21,481) rotate(90)")
    .attr("text-anchor", "middle")
    .style("font-size", "31.5px");
lt.append("tspan").text("850 hPa Temperature (red, ");
lt.append("tspan").attr("dy", "-0.45em").style("font-size", "20px").text("o");
lt.append("tspan").attr("dy", "0.45em").text("C)");

svg.append("text")
    .attr("transform", "translate(1162,453) rotate(90)")
    .attr("text-anchor", "middle")
    .style("font-size", "30.5px")
    .text("6-hour Precipitation (green, inches)");

/* titles */
wideText(svg, "Concord Municipal Airport", 585, 28, 28, "middle");
wideText(svg, "ICAO Code: KCON", 98, 46, 19.5, "start");
wideText(svg, "Coordinates: 43.20, -71.50", 98, 72.5, 19.5, "start");
wideText(svg, "New_Hampshire, USA", 98, 99, 19.5, "start");
wideText(svg, "Model: 18Z 20AUG2026 GEFS", 1101, 70.5, 19.5, "end");
wideText(svg, "weathertogether.net", 1101, 96, 22, "end")
    .style("font-weight", "bold").attr("fill", "#12a2f2");

/* legend */
var leg = svg.append("g");
leg.append("rect")
    .attr("x", 480).attr("y", 108).attr("width", 238).attr("height", 89)
    .attr("fill", "#fff").attr("stroke", "#000").attr("stroke-width", 1.5);
legendNames.forEach(function(name, i) {
    wideText(leg, name, 599, 127 + i * 21.5, 16, "middle").attr("fill", legendColors[i]);
});
</script>
</body>
</html>
